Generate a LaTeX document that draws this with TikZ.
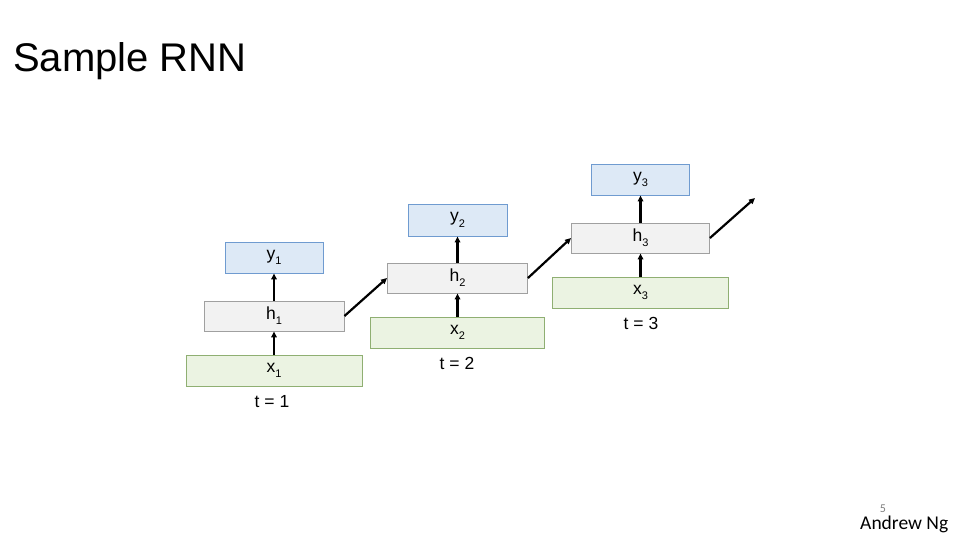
\documentclass[tikz,border=0pt]{standalone}
\usepackage{fontspec}
\setmainfont{Liberation Sans}
\newfontfamily\calib{Carlito}
\usetikzlibrary{arrows.meta}
\definecolor{yfill}{HTML}{DDE9F6}
\definecolor{ydraw}{HTML}{6F9BD0}
\definecolor{hfill}{HTML}{F2F2F2}
\definecolor{hdraw}{HTML}{A0A0A0}
\definecolor{xfill}{HTML}{EBF3E2}
\definecolor{xdraw}{HTML}{8FAF72}
\newcommand{\mysub}[1]{\raisebox{-0.3em}{\fontsize{11}{11}\selectfont #1}}
\tikzset{
  box/.style={rectangle, inner sep=0pt, line width=0.9pt, font=\fontsize{17.5}{17.5}\selectfont},
  ybox/.style={box, fill=yfill, draw=ydraw},
  hbox/.style={box, fill=hfill, draw=hdraw},
  xbox/.style={box, fill=xfill, draw=xdraw},
  tlabel/.style={inner sep=0pt, font=\fontsize{17.5}{17.5}\selectfont},
  conn/.style={line width=2.2pt, -{Triangle[length=6pt,width=5.5pt]}}
}
\begin{document}
\begin{tikzpicture}[x=1pt,y=-1pt]
\useasboundingbox (0,0) rectangle (960,540);
\fill[white] (0,0) rectangle (960,540);
\node[anchor=base west, inner sep=0pt, font=\fontsize{40}{40}\selectfont] (title) at (13,72) {Sample RNN};

% step 1
\node[ybox, minimum width=98, minimum height=31] (y1) at (274,257.5) {y\mysub{1}};
\node[hbox, minimum width=140, minimum height=30] (h1) at (274,316) {h\mysub{1}};
\node[xbox, minimum width=176, minimum height=31] (x1) at (274,370.5) {x\mysub{1}};
\node[tlabel] (t1) at (272,402) {t = 1};

% step 2
\node[ybox, minimum width=99, minimum height=32] (y2) at (457.5,220) {y\mysub{2}};
\node[hbox, minimum width=140, minimum height=30] (h2) at (457.5,278) {h\mysub{2}};
\node[xbox, minimum width=174, minimum height=31] (x2) at (457.5,332.5) {x\mysub{2}};
\node[tlabel] (t2) at (457,363) {t = 2};

% step 3
\node[ybox, minimum width=98, minimum height=31] (y3) at (640.5,179.5) {y\mysub{3}};
\node[hbox, minimum width=138, minimum height=30] (h3) at (640.5,238) {h\mysub{3}};
\node[xbox, minimum width=176, minimum height=31] (x3) at (640.5,292.5) {x\mysub{3}};
\node[tlabel] (t3) at (641,323) {t = 3};

\coordinate (out) at (755,198);

\draw[conn] (x1.north) -- (h1.south);
\draw[conn] (h1.north) -- (y1.south);
\draw[conn] (x2.north) -- (h2.south);
\draw[conn] (h2.north) -- (y2.south);
\draw[conn] (x3.north) -- (h3.south);
\draw[conn] (h3.north) -- (y3.south);
\draw[conn] (h1.east) -- (h2.west);
\draw[conn] (h2.east) -- (h3.west);
\draw[conn] (h3.east) -- (out);

\node[anchor=base west, inner sep=0pt, font=\calib\fontsize{19.5}{19.5}\selectfont] (author) at (860,529) {Andrew Ng};
\node[inner sep=0pt, text=gray, font=\calib\fontsize{12}{12}\selectfont] (page) at (883,509) {5};
\end{tikzpicture}
\end{document}
